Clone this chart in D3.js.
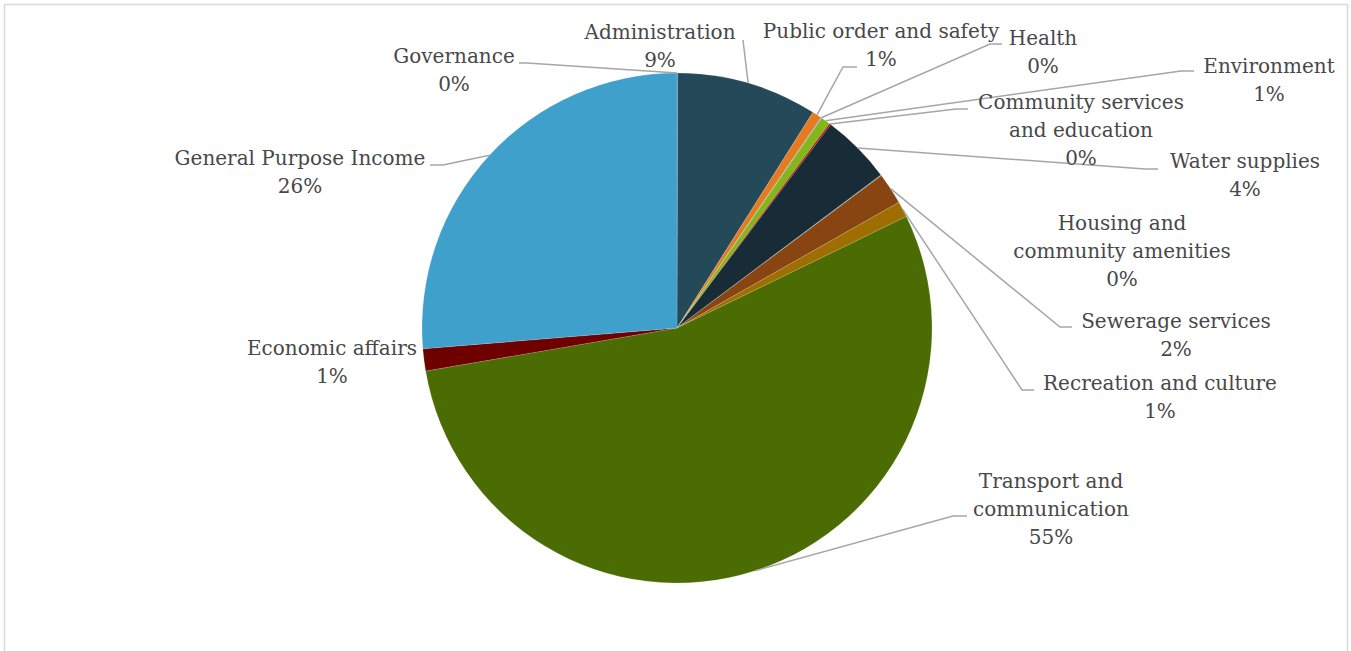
<!DOCTYPE html>
<html>
<head>
<meta charset="utf-8">
<script src="https://cdn.jsdelivr.net/npm/d3@7"></script>
<style>
  html, body { margin: 0; padding: 0; background: #fff; }
  svg { display: block; }
</style>
</head>
<body>
<svg id="chart" width="1351" height="651"></svg>
<script>
// ---- data ----
const categories = [
  "Governance", "Administration", "Public order and safety", "Health",
  "Environment", "Community services and education", "Water supplies",
  "Housing and community amenities", "Sewerage services",
  "Recreation and culture", "Transport and communication",
  "Economic affairs", "General Purpose Income"
];
const values = [0.05, 8.9, 0.6, 0.05, 0.6, 0.1, 4.45, 0.05, 2.0, 1.0, 54.5, 1.4, 26.3];
const labelLines = [
  ["Governance"], ["Administration"], ["Public order and safety"], ["Health"],
  ["Environment"], ["Community services", "and education"], ["Water supplies"],
  ["Housing and", "community amenities"], ["Sewerage services"],
  ["Recreation and culture"], ["Transport and", "communication"],
  ["Economic affairs"], ["General Purpose Income"]
];

// ---- styles / layout ----
const colors = ["#2E75B6", "#244A5A", "#E67A1E", "#5B9BD5", "#84B61A", "#C00000",
  "#172C36", "#7F7F7F", "#884512", "#9E6E00", "#4A6C02", "#6E0000", "#40A0CC"];
// label centre x, first baseline y
const labelPos = [
  [454, 63], [660, 39], [881, 38], [1043, 45], [1269, 73], [1081, 109],
  [1245, 168], [1122, 230], [1176, 328], [1160, 390], [1051, 488], [332, 355], [300, 165]
];
// leader elbow [x, y, endX] (null = no leader)
const leaders = [
  [527, 63, 519], [743, 40, 743], [843, 67, 857], [990, 44, 1002], [1181, 71, 1194],
  [956, 109, 968], [1145, 169, 1158], null, [1060, 327, 1072], [1022, 390, 1034],
  [953, 516, 967], null, [443, 165, 430]
];

const svg = d3.select("#chart");
const cx = 677, cy = 328, R = 255;

// border
svg.append("rect").attr("x", 4.5).attr("y", 4.5).attr("width", 1343).attr("height", 700)
  .attr("fill", "none").attr("stroke", "#d9d9d9").attr("stroke-width", 1.5);

const data = categories.map((c, i) => ({ name: c, value: values[i], i }));
const pie = d3.pie().value(d => d.value).sort(null);
const arcs = pie(data);
const arc = d3.arc().innerRadius(0).outerRadius(R);
const edge = d3.arc().innerRadius(R).outerRadius(R);

const g = svg.append("g").attr("transform", `translate(${cx},${cy})`);
g.selectAll("path.slice").data(arcs).join("path")
  .attr("class", "slice")
  .attr("d", arc)
  .attr("fill", d => colors[d.data.i])
  .attr("stroke", "#ffffff").attr("stroke-width", 0.4).attr("stroke-opacity", 0.35);

// leader lines
const lg = svg.append("g");
arcs.forEach(a => {
  const L = leaders[a.data.i];
  if (!L) return;
  const p = edge.centroid(a);
  const sx = cx + p[0], sy = cy + p[1];
  lg.append("polyline")
    .attr("points", `${sx},${sy} ${L[0]},${L[1]} ${L[2]},${L[1]}`)
    .attr("fill", "none").attr("stroke", "#a6a6a6").attr("stroke-width", 1.5);
});

// labels
const tg = svg.append("g")
  .attr("font-family", "'DejaVu Serif', serif")
  .attr("font-size", 20).attr("fill", "#484848").attr("text-anchor", "middle");
const total = d3.sum(values);
arcs.forEach(a => {
  const i = a.data.i;
  const lines = labelLines[i].concat([Math.round(a.data.value / total * 100) + "%"]);
  const t = tg.append("text").attr("x", labelPos[i][0]).attr("y", labelPos[i][1]);
  lines.forEach((ln, k) => {
    t.append("tspan").attr("x", labelPos[i][0]).attr("dy", k === 0 ? 0 : 28).text(ln);
  });
});
</script>
</body>
</html>
